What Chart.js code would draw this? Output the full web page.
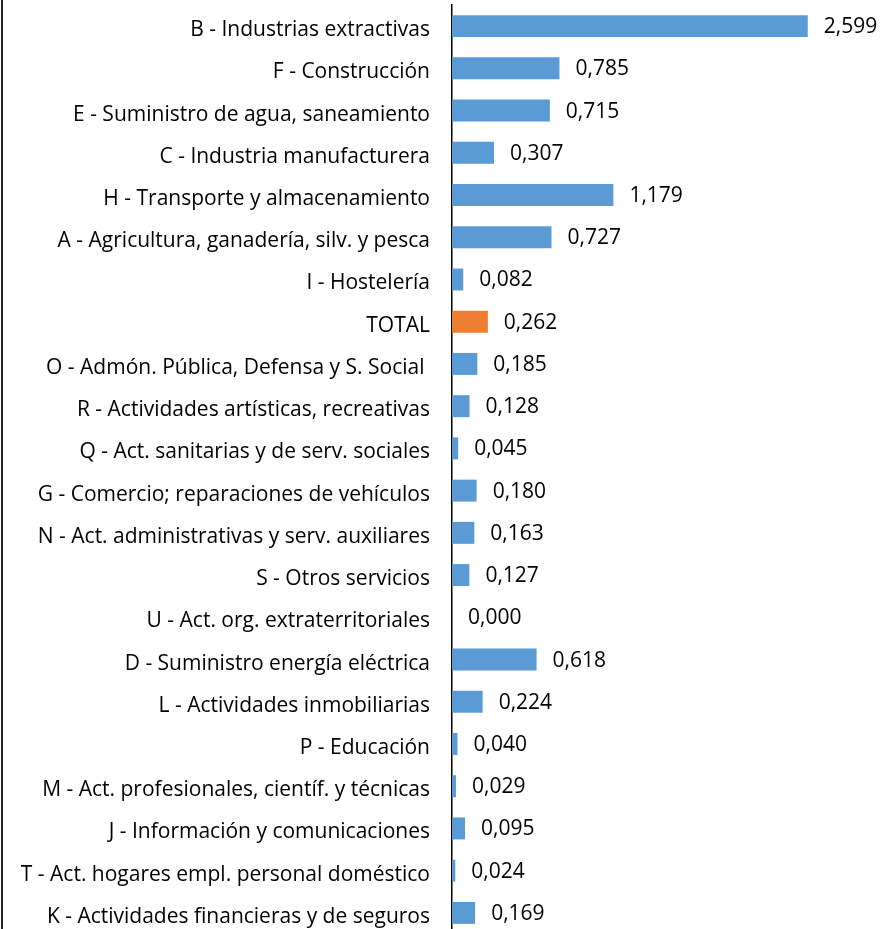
<!DOCTYPE html>
<html>
<head>
<meta charset="utf-8">
<script src="https://cdn.jsdelivr.net/npm/chart.js@4"></script>
<style>
  html, body { margin: 0; padding: 0; background: #fff; overflow: hidden; }
  .wrap { position: relative; width: 895px; height: 934px; }
  .wrap::before { content: ""; position: absolute; left: 1px; top: 0; bottom: 0; width: 2px; background: #222; }
</style>
</head>
<body>
<div class="wrap"><canvas id="chart" width="895" height="934"></canvas></div>
<script>
const categories = [
  'B - Industrias extractivas',
  'F - Construcción',
  'E - Suministro de agua, saneamiento',
  'C - Industria manufacturera',
  'H - Transporte y almacenamiento',
  'A - Agricultura, ganadería, silv. y pesca',
  'I - Hostelería',
  'TOTAL',
  'O - Admón. Pública, Defensa y S. Social ',
  'R - Actividades artísticas, recreativas',
  'Q - Act. sanitarias y de serv. sociales',
  'G - Comercio; reparaciones de vehículos',
  'N - Act. administrativas y serv. auxiliares',
  'S - Otros servicios',
  'U - Act. org. extraterritoriales',
  'D - Suministro energía eléctrica',
  'L - Actividades inmobiliarias',
  'P - Educación',
  'M - Act. profesionales, científ. y técnicas',
  'J - Información y comunicaciones',
  'T - Act. hogares empl. personal doméstico',
  'K - Actividades financieras y de seguros'
];
const values = [2.599, 0.785, 0.715, 0.307, 1.179, 0.727, 0.082, 0.262, 0.185, 0.128, 0.045,
  0.180, 0.163, 0.127, 0.000, 0.618, 0.224, 0.040, 0.029, 0.095, 0.024, 0.169];
const highlight = 'TOTAL';

const FONT = 'Open Sans';
const barColors = categories.map(c => c === highlight ? '#ED7D31' : '#5B9BD5');

// value labels to the right of each bar, comma decimals like the original
const valueLabels = {
  id: 'valueLabels',
  afterDatasetsDraw(chart) {
    const ctx = chart.ctx;
    const meta = chart.getDatasetMeta(0);
    ctx.save();
    ctx.font = '21px "' + FONT + '"';
    ctx.fillStyle = '#000';
    ctx.textAlign = 'left';
    ctx.textBaseline = 'middle';
    meta.data.forEach((bar, i) => {
      ctx.fillText(values[i].toFixed(3).replace('.', ','), bar.x + 16, bar.y + 1);
    });
    ctx.restore();
  }
};

new Chart(document.getElementById('chart'), {
  type: 'bar',
  data: {
    labels: categories,
    datasets: [{
      data: values,
      backgroundColor: barColors,
      borderWidth: 0,
      barPercentage: 0.52,
      categoryPercentage: 1
    }]
  },
  options: {
    indexAxis: 'y',
    responsive: false,
    animation: false,
    layout: { padding: { top: 5, right: 5, left: 0, bottom: 0 } },
    plugins: { legend: { display: false }, tooltip: { enabled: false } },
    scales: {
      x: {
        display: false,
        min: 0,
        max: 3.2
      },
      y: {
        afterFit(scale) {
          scale.width = 452;
          scale.paddingTop = 0;
          scale.paddingBottom = 0;
        },
        grid: { display: false, drawTicks: false },
        border: { display: true, color: '#000', width: 1.5 },
        ticks: {
          padding: 22,
          labelOffset: 4,
          color: '#000',
          font: { family: FONT, size: 21 }
        }
      }
    }
  },
  plugins: [valueLabels]
});
</script>
</body>
</html>
